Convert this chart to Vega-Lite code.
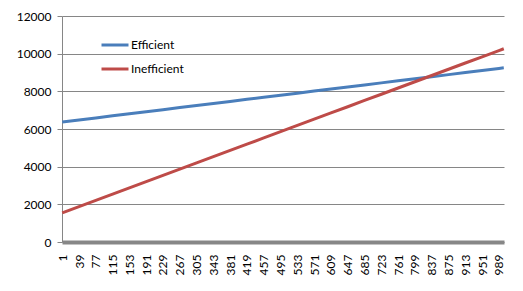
{
  "$schema": "https://vega.github.io/schema/vega-lite/v6.json",
  "width": 442,
  "height": 226,
  "autosize": {"type": "none"},
  "padding": {"left": 62, "top": 16, "right": 19, "bottom": 49},
  "background": "white",
  "config": {
    "view": {"stroke": null},
    "font": "Lato",
    "axis": {"labelFont": "Lato", "labelFontSize": 12, "labelColor": "#000000", "title": null}
  },
  "data": {
    "values": [
      {"n": 1, "series": "Efficient", "value": 6370},
      {"n": 39, "series": "Efficient", "value": 6479},
      {"n": 77, "series": "Efficient", "value": 6589},
      {"n": 115, "series": "Efficient", "value": 6698},
      {"n": 153, "series": "Efficient", "value": 6808},
      {"n": 191, "series": "Efficient", "value": 6917},
      {"n": 229, "series": "Efficient", "value": 7027},
      {"n": 267, "series": "Efficient", "value": 7136},
      {"n": 305, "series": "Efficient", "value": 7246},
      {"n": 343, "series": "Efficient", "value": 7355},
      {"n": 381, "series": "Efficient", "value": 7464},
      {"n": 419, "series": "Efficient", "value": 7574},
      {"n": 457, "series": "Efficient", "value": 7683},
      {"n": 495, "series": "Efficient", "value": 7793},
      {"n": 533, "series": "Efficient", "value": 7902},
      {"n": 571, "series": "Efficient", "value": 8012},
      {"n": 609, "series": "Efficient", "value": 8121},
      {"n": 647, "series": "Efficient", "value": 8230},
      {"n": 685, "series": "Efficient", "value": 8340},
      {"n": 723, "series": "Efficient", "value": 8449},
      {"n": 761, "series": "Efficient", "value": 8559},
      {"n": 799, "series": "Efficient", "value": 8668},
      {"n": 837, "series": "Efficient", "value": 8778},
      {"n": 875, "series": "Efficient", "value": 8887},
      {"n": 913, "series": "Efficient", "value": 8997},
      {"n": 951, "series": "Efficient", "value": 9106},
      {"n": 989, "series": "Efficient", "value": 9215},
      {"n": 1000, "series": "Efficient", "value": 9247},
      {"n": 1, "series": "Inefficient", "value": 1550},
      {"n": 39, "series": "Inefficient", "value": 1881},
      {"n": 77, "series": "Inefficient", "value": 2213},
      {"n": 115, "series": "Inefficient", "value": 2544},
      {"n": 153, "series": "Inefficient", "value": 2875},
      {"n": 191, "series": "Inefficient", "value": 3207},
      {"n": 229, "series": "Inefficient", "value": 3538},
      {"n": 267, "series": "Inefficient", "value": 3870},
      {"n": 305, "series": "Inefficient", "value": 4201},
      {"n": 343, "series": "Inefficient", "value": 4532},
      {"n": 381, "series": "Inefficient", "value": 4864},
      {"n": 419, "series": "Inefficient", "value": 5195},
      {"n": 457, "series": "Inefficient", "value": 5526},
      {"n": 495, "series": "Inefficient", "value": 5858},
      {"n": 533, "series": "Inefficient", "value": 6189},
      {"n": 571, "series": "Inefficient", "value": 6520},
      {"n": 609, "series": "Inefficient", "value": 6852},
      {"n": 647, "series": "Inefficient", "value": 7183},
      {"n": 685, "series": "Inefficient", "value": 7515},
      {"n": 723, "series": "Inefficient", "value": 7846},
      {"n": 761, "series": "Inefficient", "value": 8177},
      {"n": 799, "series": "Inefficient", "value": 8509},
      {"n": 837, "series": "Inefficient", "value": 8840},
      {"n": 875, "series": "Inefficient", "value": 9171},
      {"n": 913, "series": "Inefficient", "value": 9503},
      {"n": 951, "series": "Inefficient", "value": 9834},
      {"n": 989, "series": "Inefficient", "value": 10165},
      {"n": 1000, "series": "Inefficient", "value": 10261}
    ]
  },
  "mark": {"type": "line", "strokeWidth": 3},
  "encoding": {
    "x": {
      "field": "n",
      "type": "quantitative",
      "scale": {"domain": [0.5, 1000.5], "nice": false, "zero": false},
      "axis": {
        "values": [1, 39, 77, 115, 153, 191, 229, 267, 305, 343, 381, 419, 457, 495, 533, 571, 609, 647, 685, 723, 761, 799, 837, 875, 913, 951, 989],
        "labelAngle": 270,
        "labelAlign": "right",
        "labelBaseline": "middle",
        "labelPadding": 12,
        "labelOverlap": false,
        "labelFlush": false,
        "ticks": false,
        "grid": false,
        "domainColor": "#878787",
        "domainWidth": 4
      }
    },
    "y": {
      "field": "value",
      "type": "quantitative",
      "scale": {"domain": [0, 12000], "nice": false},
      "axis": {
        "values": [0, 2000, 4000, 6000, 8000, 10000, 12000],
        "format": "d",
        "grid": true,
        "gridColor": "#868686",
        "gridOpacity": 1,
        "domainColor": "#868686",
        "tickColor": "#868686",
        "tickSize": 5,
        "labelPadding": 6
      }
    },
    "color": {
      "field": "series",
      "type": "nominal",
      "scale": {"domain": ["Efficient", "Inefficient"], "range": ["#4A7EBB", "#BE4B48"]},
      "legend": {
        "title": null,
        "orient": "none",
        "legendX": 38,
        "legendY": 14,
        "symbolType": "stroke",
        "symbolSize": 729,
        "symbolStrokeWidth": 3,
        "labelFont": "Lato",
        "labelFontSize": 12,
        "labelColor": "#000000",
        "labelOffset": 1,
        "rowPadding": 3
      }
    }
  }
}
